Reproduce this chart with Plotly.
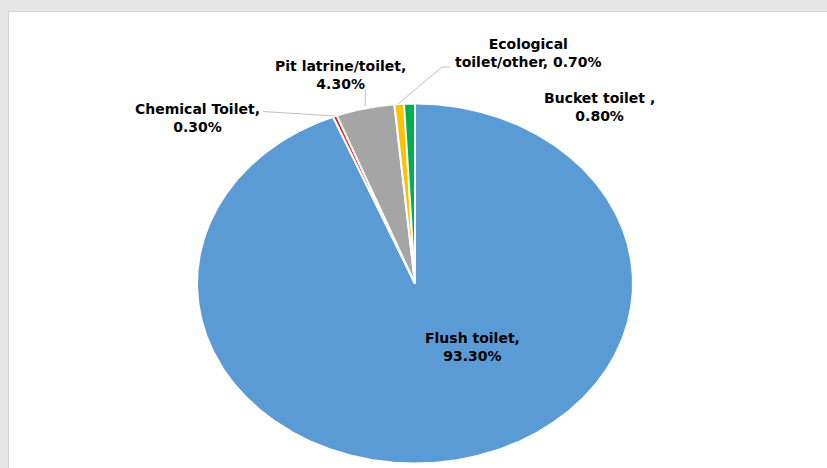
import numpy as np
import plotly.graph_objects as go

# ---- data ----
categories = ["Flush toilet", "Chemical Toilet", "Pit latrine/toilet", "Ecological toilet/other", "Bucket toilet "]
values = [93.3, 0.3, 4.3, 0.7, 0.8]
label_texts = ["Flush toilet,<br>93.30%", "Chemical Toilet,<br>0.30%", "Pit latrine/toilet,<br>4.30%",
               "Ecological<br>toilet/other, 0.70%", "Bucket toilet ,<br>0.80%"]
colors = ["#5B9BD5", "#E8231B", "#A5A5A5", "#FFC000", "#00B050"]

# ---- layout geometry (pixels) ----
W, H = 827, 468
CX, CY = 415, 283.5      # pie centre (px from left/top)
RX, RY = 218, 180        # pie radii (px)

# axes in "unit circle" coordinates: x scaled by RX px/unit, y by RY px/unit
xr = [-CX / RX, (W - CX) / RX]
yr = [-(H - CY) / RY, CY / RY]

fig = go.Figure()
total = sum(values)
start = 0.0
for cat, v, col in zip(categories, values, colors):
    frac = v / total
    n = max(3, int(frac * 720))
    th = 2 * np.pi * np.linspace(start, start + frac, n)
    xs = np.concatenate([[0], np.sin(th), [0]])
    ys = np.concatenate([[0], np.cos(th), [0]])
    fig.add_trace(go.Scatter(x=xs, y=ys, mode="lines", fill="toself", fillcolor=col,
                             line=dict(color="white", width=2), name=cat,
                             hoverinfo="name", showlegend=False))
    start += frac

def px(x):
    return x / W

def py(y):
    return 1 - y / H

label_pos = [(472, 346.5), (197, 118), (340, 74.5), (528, 53), (599, 107.5)]
annotations = []
for t, (lx, ly) in zip(label_texts, label_pos):
    bold = "<br>".join(f"<b>{s}</b>" for s in t.split("<br>"))
    annotations.append(dict(text=bold, x=px(lx), y=py(ly), xref="paper", yref="paper",
                            xanchor="center", yanchor="middle", showarrow=False, align="center",
                            font=dict(family="DejaVu Sans", size=14, color="#000000")))

leader = "#BFBFBF"
shapes = [
    dict(type="rect", xref="paper", yref="paper", x0=px(8.5), x1=1.01, y0=-0.01, y1=py(11.5),
         fillcolor="white", line=dict(color="#D4D4D4", width=1), layer="below"),
    dict(type="path", xref="paper", yref="paper",
         path=f"M {px(263)} {py(111.5)} L {px(335)} {py(116)}", line=dict(color=leader, width=1)),
    dict(type="path", xref="paper", yref="paper",
         path=f"M {px(365.5)} {py(90)} L {px(365)} {py(106)}", line=dict(color=leader, width=1)),
    dict(type="path", xref="paper", yref="paper",
         path=f"M {px(450)} {py(67)} L {px(442)} {py(67)} L {px(398)} {py(104)}", line=dict(color=leader, width=1)),
]

fig.update_layout(
    width=W, height=H, margin=dict(l=0, r=0, t=0, b=0),
    paper_bgcolor="#E6E6E6", plot_bgcolor="rgba(0,0,0,0)",
    xaxis=dict(range=xr, visible=False, fixedrange=True),
    yaxis=dict(range=yr, visible=False, fixedrange=True),
    annotations=annotations, shapes=shapes, showlegend=False,
)

fig.write_html("out.html", config={"displayModeBar": False})
